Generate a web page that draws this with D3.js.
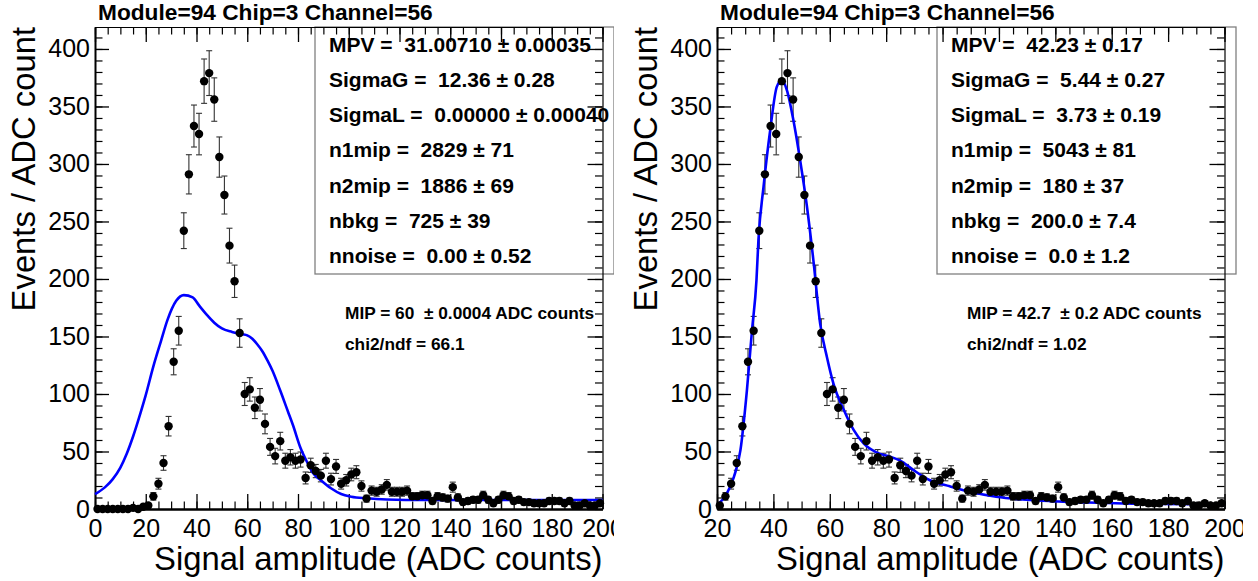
<!DOCTYPE html>
<html>
<head>
<meta charset="utf-8">
<script src="https://cdn.jsdelivr.net/npm/d3@7"></script>
<style>
  html, body { margin: 0; padding: 0; background: #fff; }
  svg text { font-family: "Liberation Sans", Arial, Helvetica, sans-serif; white-space: pre; }
</style>
</head>
<body>
<svg id="chart" width="1258" height="581"></svg>
<script>
// histogram bins (centre of each 2 ADC bin) and counts
const binCenters = [1, 3, 5, 7, 9, 11, 13, 15, 17, 19, 21, 23, 25, 27, 29, 31, 33, 35, 37, 39,
  41, 43, 45, 47, 49, 51, 53, 55, 57, 59, 61, 63, 65, 67, 69, 71, 73, 75, 77, 79,
  81, 83, 85, 87, 89, 91, 93, 95, 97, 99, 101, 103, 105, 107, 109, 111, 113, 115, 117, 119,
  121, 123, 125, 127, 129, 131, 133, 135, 137, 139, 141, 143, 145, 147, 149, 151, 153, 155, 157, 159,
  161, 163, 165, 167, 169, 171, 173, 175, 177, 179, 181, 183, 185, 187, 189, 191, 193, 195, 197, 199];
const counts = [0, 0, 0, 0, 0, 0, 0, 1, 0, 2, 3, 11, 22, 40, 72, 128, 155, 242, 291, 333,
  326, 372, 379, 356, 306, 273, 229, 198, 153, 100, 104, 88, 95, 74, 54, 46, 59, 42, 45, 42,
  43, 27, 38, 33, 29, 42, 26, 37, 22, 25, 30, 32, 20, 9, 16, 15, 17, 21, 15, 15,
  15, 16, 11, 11, 12, 12, 7, 11, 10, 9, 19, 10, 6, 7, 8, 8, 12, 8, 5, 8,
  12, 11, 7, 8, 6, 6, 5, 5, 5, 7, 7, 7, 5, 7, 3, 3, 5, 3, 3, 5];

// fit curves, points
const fitLeftX = [0, 4, 7, 10, 12.5, 15, 18, 20, 23, 26, 28.5, 32, 35, 38.5, 41, 44, 47, 50, 54, 58,
  60, 62, 64, 66, 68, 70, 73, 76, 78, 81, 84, 86, 89, 93, 97, 101, 107, 115, 130, 200];
const fitLeftY = [13, 19, 26, 36, 48, 63, 84, 99, 124, 146, 164, 181, 186, 184, 177, 169, 162, 157, 154, 152,
  151, 148, 143, 137, 129, 120, 103, 85, 73, 53, 39, 31, 25, 18, 13, 10.7, 9.3, 8.3, 7.8, 7.8];
const fitRightX = [20, 21, 23.5, 26, 28.3, 30.6, 32.4, 34, 34.7, 36.5, 38.9, 41.2, 43, 44.8, 47.1, 49.5, 51.9, 54.2, 56.6, 59,
  61.3, 65, 68.4, 72, 76.7, 81.4, 85, 89.6, 95.5, 102.6, 109.7, 119, 131, 142.7, 154.6, 178, 200];
const fitRightY = [3.5, 5.5, 13.6, 28, 51, 103, 155, 199, 234, 280, 330, 367, 373, 364, 338, 303, 263, 216, 161, 132,
  109, 86, 69, 57, 49, 45.5, 42, 34, 25, 19.7, 15, 10.7, 7.8, 6.4, 5.5, 4.3, 4];

const titleText = "Module=94 Chip=3 Channel=56";
const statsLeft = ["MPV =  31.00710 ± 0.00035", "SigmaG =  12.36 ± 0.28", "SigmaL =  0.00000 ± 0.00040",
  "n1mip =  2829 ± 71", "n2mip =  1886 ± 69", "nbkg =  725 ± 39", "nnoise =  0.00 ± 0.52"];
const statsRight = ["MPV =  42.23 ± 0.17", "SigmaG =  5.44 ± 0.27", "SigmaL =  3.73 ± 0.19",
  "n1mip =  5043 ± 81", "n2mip =  180 ± 37", "nbkg =  200.0 ± 7.4", "nnoise =  0.0 ± 1.2"];
const mipLeft = ["MIP = 60  ± 0.0004 ADC counts", "chi2/ndf = 66.1"];
const mipRight = ["MIP = 42.7  ± 0.2 ADC counts", "chi2/ndf = 1.02"];

const yTicks = [0, 50, 100, 150, 200, 250, 300, 350, 400];
const xTicksLeft = [0, 20, 40, 60, 80, 100, 120, 140, 160, 180, 200];
const xTicksRight = [20, 40, 60, 80, 100, 120, 140, 160, 180, 200];

const svg = d3.select("#chart");

function drawPanel(p) {
    const top = 27, bottom = 509;
    const left = p.dx + 95, right = p.dx + 602.5;

    svg.append("clipPath").attr("id", p.id)
        .append("rect").attr("x", p.clip[0]).attr("y", 0)
        .attr("width", p.clip[1] - p.clip[0]).attr("height", 581);

    const g = svg.append("g").attr("clip-path", `url(#${p.id})`);

    const x = d3.scaleLinear().domain(p.xDomain).range([left, right]);
    const y = d3.scaleLinear().domain([0, 419.1]).range([bottom, top]);

    // stats box (frame is drawn over it later)
    g.append("rect")
        .attr("x", p.dx + 315).attr("y", top)
        .attr("width", 299).attr("height", 247)
        .attr("fill", "#fff").attr("stroke", "#808080").attr("stroke-width", 1.3);
    g.selectAll(".stat").data(p.stats).enter().append("text")
        .attr("x", p.dx + 329).attr("y", (d, i) => 51.7 + i * 35.2)
        .style("font-size", "21px").style("font-weight", "bold")
        .text(d => d);

    g.selectAll(".mip").data(p.mip).enter().append("text")
        .attr("x", p.dx + 345).attr("y", (d, i) => 319 + i * 31)
        .style("font-size", "17.3px").style("font-weight", "bold")
        .text(d => d);

    // title
    g.append("text").attr("x", p.dx + 98).attr("y", 20)
        .style("font-size", "22.7px").style("font-weight", "bold")
        .text(titleText);

    // minor ticks
    const xMinor = d3.range(p.xDomain[0], p.xDomain[1] + 0.1, 5);
    const yMinor = d3.range(0, 419, 10);

    const minorAxes = [
        [d3.axisBottom(x).tickValues(xMinor), `translate(0,${bottom})`],
        [d3.axisTop(x).tickValues(xMinor), `translate(0,${top})`],
        [d3.axisLeft(y).tickValues(yMinor), `translate(${left},0)`],
        [d3.axisRight(y).tickValues(yMinor), `translate(${right},0)`]
    ];
    minorAxes.forEach(([ax, tr]) => {
        const a = g.append("g").attr("transform", tr)
            .call(ax.tickSize(-7.5).tickSizeOuter(0).tickFormat(""));
        a.select(".domain").remove();
        a.selectAll("line").attr("stroke", "#000").attr("stroke-width", 1.2);
    });

    // major axes
    const xAxis = g.append("g").attr("transform", `translate(0,${bottom})`)
        .call(d3.axisBottom(x).tickValues(p.xTicks).tickSize(-15).tickSizeOuter(0).tickPadding(10));
    const xTop = g.append("g").attr("transform", `translate(0,${top})`)
        .call(d3.axisTop(x).tickValues(p.xTicks).tickSize(-15).tickSizeOuter(0).tickFormat(""));
    const yAxis = g.append("g").attr("transform", `translate(${left},0)`)
        .call(d3.axisLeft(y).tickValues(yTicks).tickSize(-14).tickSizeOuter(0).tickPadding(5));
    const yRight = g.append("g").attr("transform", `translate(${right},0)`)
        .call(d3.axisRight(y).tickValues(yTicks).tickSize(-15).tickSizeOuter(0).tickFormat(""));

    [xAxis, xTop, yAxis, yRight].forEach(a => {
        a.selectAll("line").attr("stroke", "#000").attr("stroke-width", 1.3);
        a.selectAll("text").attr("fill", "#000")
            .style("font-size", "25px").style("font-family", '"Liberation Sans", Arial, sans-serif');
    });
    xAxis.select(".domain").attr("stroke-width", 2.5);
    yAxis.select(".domain").attr("stroke-width", 2);
    xTop.select(".domain").attr("stroke-width", 1.2);
    yRight.select(".domain").attr("stroke-width", 1.2);

    // axis titles
    g.append("text").attr("x", right).attr("y", 570)
        .attr("text-anchor", "end").style("font-size", "32.8px")
        .text("Signal amplitude (ADC counts)");
    g.append("text")
        .attr("transform", `translate(${p.dx + 35},${top}) rotate(-90)`)
        .attr("text-anchor", "end").style("font-size", "32.8px")
        .text("Events / ADC count");

    // histogram points with errors
    const pts = binCenters.map((c, i) => ({ x: c, n: counts[i] }))
        .filter(d => d.x > p.xDomain[0] && d.x < p.xDomain[1]);

    const err = g.append("g").attr("stroke", "#333").attr("stroke-width", 1.1);
    pts.filter(d => d.n > 0).forEach(d => {
        const e = Math.sqrt(d.n);
        const cx = x(d.x);
        err.append("line").attr("x1", cx).attr("x2", cx).attr("y1", y(d.n - e)).attr("y2", y(d.n + e));
        err.append("line").attr("x1", cx - 3).attr("x2", cx + 3).attr("y1", y(d.n - e)).attr("y2", y(d.n - e));
        err.append("line").attr("x1", cx - 3).attr("x2", cx + 3).attr("y1", y(d.n + e)).attr("y2", y(d.n + e));
    });

    // fit curve
    const line = d3.line().x(d => x(d[0])).y(d => y(d[1])).curve(d3.curveMonotoneX);
    g.append("path")
        .datum(p.fitX.map((v, i) => [v, p.fitY[i]]))
        .attr("fill", "none").attr("stroke", "#0000ff").attr("stroke-width", 2.6)
        .attr("d", line);

    g.selectAll(".pt").data(pts).enter().append("circle")
        .attr("cx", d => x(d.x)).attr("cy", d => y(d.n))
        .attr("r", 4.2).attr("fill", "#000");
}

drawPanel({ id: "clipL", dx: 0, clip: [0, 614], xDomain: [0, 200], xTicks: xTicksLeft,
    fitX: fitLeftX, fitY: fitLeftY, stats: statsLeft, mip: mipLeft });
drawPanel({ id: "clipR", dx: 622, clip: [616, 1243], xDomain: [20, 200], xTicks: xTicksRight,
    fitX: fitRightX, fitY: fitRightY, stats: statsRight, mip: mipRight });
</script>
</body>
</html>
